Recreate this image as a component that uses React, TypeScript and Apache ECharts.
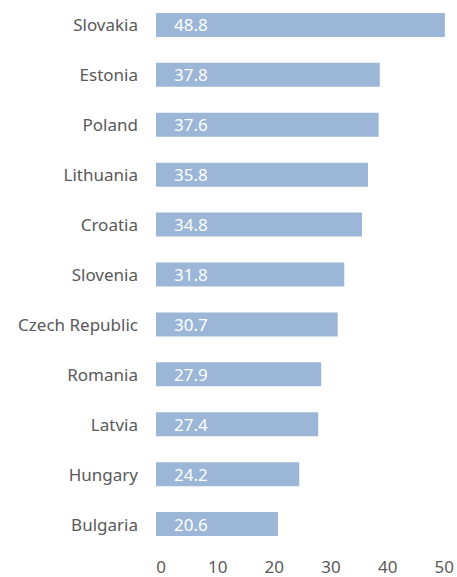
import React, { useEffect, useRef } from "react";
import * as echarts from "echarts";

const countries = [
  "Slovakia",
  "Estonia",
  "Poland",
  "Lithuania",
  "Croatia",
  "Slovenia",
  "Czech Republic",
  "Romania",
  "Latvia",
  "Hungary",
  "Bulgaria",
];
const values = [48.8, 37.8, 37.6, 35.8, 34.8, 31.8, 30.7, 27.9, 27.4, 24.2, 20.6];
const tickMin = 0;
const tickMax = 50;
const tickStep = 10;

export default function App() {
  const ref = useRef<HTMLDivElement>(null);
  useEffect(() => {
    if (!ref.current) return;
    const chart = echarts.init(ref.current, null, { renderer: "svg" });
    const labelStyle = { color: "#595959", fontFamily: "Noto Sans", fontSize: 17 };
    chart.setOption({
      animation: false,
      grid: [
        { left: 156, width: 296, top: -1, bottom: 28, containLabel: false },
        { left: 161, width: 284, top: -1, bottom: 28, containLabel: false },
      ],
      xAxis: [
        {
          type: "value",
          gridIndex: 0,
          min: tickMin,
          max: tickMax,
          interval: tickStep,
          axisLine: { show: false },
          axisTick: { show: false },
          splitLine: { show: false },
          axisLabel: { show: false },
        },
        {
          type: "value",
          gridIndex: 1,
          min: tickMin,
          max: tickMax,
          interval: tickStep,
          axisLine: { show: false },
          axisTick: { show: false },
          splitLine: { show: false },
          axisLabel: { ...labelStyle, margin: 9 },
        },
      ],
      yAxis: [
        {
          type: "category",
          gridIndex: 0,
          data: countries,
          inverse: true,
          axisLine: { show: false },
          axisTick: { show: false },
          axisLabel: { ...labelStyle, margin: 18 },
        },
        {
          type: "category",
          gridIndex: 1,
          data: countries,
          inverse: true,
          show: false,
        },
      ],
      series: [
        {
          type: "bar",
          xAxisIndex: 0,
          yAxisIndex: 0,
          data: values,
          barWidth: 24,
          itemStyle: { color: "#9bb6d6" },
          label: {
            show: true,
            position: "insideLeft",
            distance: 18,
            color: "#ffffff",
            fontFamily: "Noto Sans",
            fontSize: 17,
            formatter: (p: any) => p.value.toFixed(1),
          },
        },
      ],
    });
    return () => chart.dispose();
  }, []);
  return (
    <div
      ref={ref}
      style={{ position: "fixed", left: 0, top: 0, width: 457, height: 577, background: "#fff" }}
    />
  );
}
